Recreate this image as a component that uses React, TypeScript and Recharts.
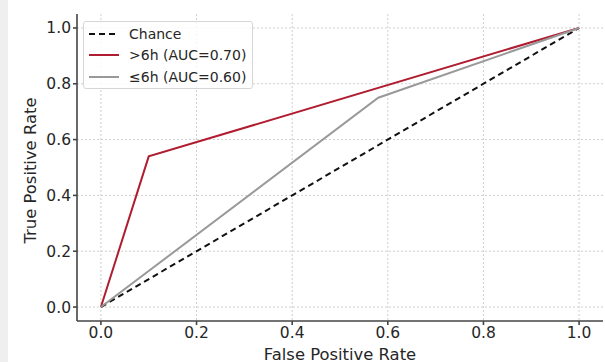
import { CartesianGrid, Line, LineChart, XAxis, YAxis } from 'recharts';

const TICKS = [0, 0.2, 0.4, 0.6, 0.8, 1.0];

const CHANCE_FPR = [0, 1];
const CHANCE_TPR = [0, 1];
const LONG_FPR = [0, 0.1, 1];
const LONG_TPR = [0, 0.54, 1];
const SHORT_FPR = [0, 0.58, 1];
const SHORT_TPR = [0, 0.75, 1];

const toPoints = (xs: number[], ys: number[]) => xs.map((x, i) => ({ fpr: x, tpr: ys[i] }));

const SERIES = [
  { name: 'Chance', data: toPoints(CHANCE_FPR, CHANCE_TPR), color: '#111111', dash: '6 4' },
  { name: '>6h (AUC=0.70)', data: toPoints(LONG_FPR, LONG_TPR), color: '#b01c30', dash: undefined },
  { name: '≤6h (AUC=0.60)', data: toPoints(SHORT_FPR, SHORT_TPR), color: '#999999', dash: undefined }
];

const FONT = '"DejaVu Sans", sans-serif';
const AXIS = '#444444';
const TEXT = '#262626';

function LegendBox() {
  return (
    <div
      style={{
        position: 'absolute',
        left: 83,
        top: 21,
        width: 170,
        height: 68,
        border: '1px solid #d6d6d6',
        borderRadius: 3,
        background: 'rgba(255,255,255,0.85)',
        fontFamily: FONT,
        fontSize: 14,
        color: TEXT,
        boxSizing: 'border-box',
        padding: '1px 0 0 4px'
      }}
    >
      {SERIES.map((s) => (
        <div key={s.name} style={{ display: 'flex', alignItems: 'center', height: 21.5 }}>
          <svg width={32} height={6} style={{ marginRight: 9 }}>
            <line x1={1} y1={3} x2={31} y2={3} stroke={s.color} strokeWidth={2} strokeDasharray={s.dash} />
          </svg>
          <span>{s.name}</span>
        </div>
      ))}
    </div>
  );
}

export default function App() {
  return (
    <div style={{ position: 'absolute', left: 0, top: 0, width: 605, height: 362, background: '#ffffff', overflow: 'hidden' }}>
      <div style={{ position: 'absolute', left: 0, top: 0, width: 8, height: 362, background: '#efefef' }} />
      <LineChart width={605} height={362} margin={{ top: 14, right: 2, bottom: 0, left: 7 }}>
        <CartesianGrid stroke="#cfcfcf" strokeDasharray="2 2" horizontalValues={TICKS} verticalValues={TICKS} />
        <XAxis
          type="number"
          dataKey="fpr"
          domain={[-0.05, 1.05]}
          ticks={TICKS}
          tickFormatter={(v: number) => v.toFixed(1)}
          allowDuplicatedCategory={false}
          height={41}
          stroke={AXIS}
          strokeWidth={1.6}
          tickSize={4}
          tick={{ fill: TEXT, fontSize: 15.5, fontFamily: FONT }}
          label={{ value: 'False Positive Rate', position: 'insideBottom', offset: 2, fill: TEXT, fontSize: 16.4, fontFamily: FONT }}
        />
        <YAxis
          type="number"
          dataKey="tpr"
          domain={[-0.05, 1.05]}
          ticks={TICKS}
          tickFormatter={(v: number) => v.toFixed(1)}
          width={70}
          stroke={AXIS}
          strokeWidth={1.6}
          tickSize={4}
          tick={{ fill: TEXT, fontSize: 15.5, fontFamily: FONT }}
          label={{ value: 'True Positive Rate', angle: -90, position: 'insideLeft', offset: 23, dy: 3, fill: TEXT, fontSize: 16.4, fontFamily: FONT, style: { textAnchor: 'middle' } }}
        />
        {SERIES.map((s) => (
          <Line
            key={s.name}
            data={s.data}
            dataKey="tpr"
            name={s.name}
            type="linear"
            stroke={s.color}
            strokeWidth={2}
            strokeDasharray={s.dash}
            dot={false}
            activeDot={false}
            isAnimationActive={false}
          />
        ))}
      </LineChart>
      <LegendBox />
    </div>
  );
}
